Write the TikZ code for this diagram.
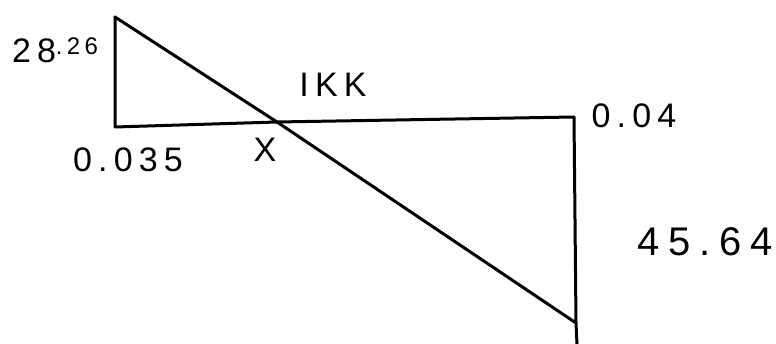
\documentclass[tikz,border=0pt]{standalone}
\usepackage{fontspec}
\setmainfont{Liberation Sans}
\begin{document}
\begin{tikzpicture}[x=1pt,y=-1pt,
  beam/.style={line width=3pt,line cap=round,line join=round},
  lbl/.style={inner sep=0pt,anchor=center},
  big/.style={font=\fontsize{34}{34}\selectfont\addfontfeature{LetterSpace=18}}]
\useasboundingbox (0,0) rectangle (776,344);
\coordinate (A) at (115,17);
\coordinate (B) at (115,127);
\coordinate (X) at (277,122);
\coordinate (C) at (574,117);
\coordinate (D) at (576,323);
\coordinate (E) at (577,344);
\draw[beam] (A) -- (B) -- (X) -- (C) -- (D) -- (E);
\draw[beam] (A) -- (X) -- (D);
\node[lbl,big] (l1) at (55,50) {28\raisebox{8pt}{\fontsize{24}{24}\selectfont.26}};
\node[lbl,big] (l2) at (128,160) {0.035};
\node[lbl,big] (l3) at (265,150) {X};
\node[lbl,big] (l4) at (333,85) {IKK};
\node[lbl,big] (l5) at (634,116) {0.04};
\node[lbl,big,font=\fontsize{40}{40}\selectfont\addfontfeature{LetterSpace=22}] (l6) at (705,242) {45.64};
\end{tikzpicture}
\end{document}
